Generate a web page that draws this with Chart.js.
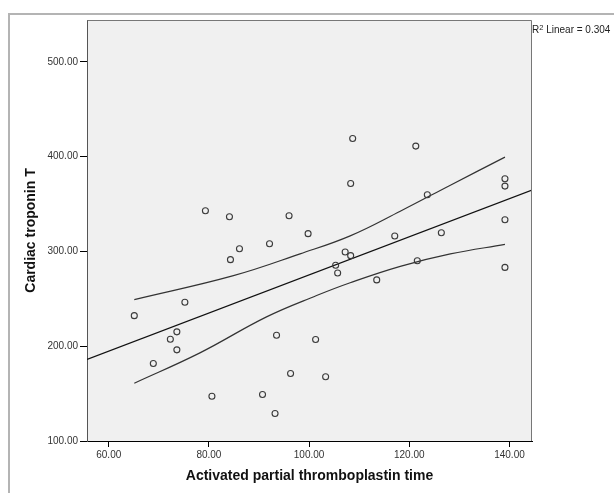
<!DOCTYPE html>
<html>
<head>
<meta charset="utf-8">
<title>APTT vs cardiac troponin T</title>
<script src="https://cdn.jsdelivr.net/npm/chart.js@4.4.1/dist/chart.umd.min.js"></script>
<style>
    html, body { margin: 0; padding: 0; background: #fff; }
    canvas { display: block; }
</style>
</head>
<body>
<canvas id="scatter-chart" width="614" height="493"></canvas>
<script>
const aptt = [65.1, 68.9, 72.3, 73.6, 73.6, 75.2, 79.3, 80.6, 84.1, 84.3, 86.1, 90.7,
    92.1, 93.2, 93.5, 96.0, 96.3, 99.8, 101.3, 103.3, 105.3, 105.7, 107.2, 108.3,
    108.3, 108.7, 113.5, 117.1, 121.3, 121.6, 123.6, 126.4, 139.1, 139.1, 139.1, 139.1];
const troponin = [232.3, 181.8, 207.4, 215.2, 196.2, 246.4, 343.0, 147.3, 336.7, 291.4, 302.9, 149.1,
    308.2, 129.1, 211.6, 337.7, 171.2, 318.8, 207.1, 167.8, 285.4, 277.3, 299.5, 295.6,
    371.8, 419.2, 270.0, 316.3, 411.2, 290.3, 359.9, 319.8, 376.7, 369.0, 333.5, 283.2];

// fit line and confidence band
const fitX = [55.66, 144.5];
const fitY = [186.0, 364.8];
const upperX = [65.1, 84.9, 98.2, 108.2, 118.2, 128.2, 139.1];
const upperY = [249.2, 274.5, 297.5, 316.5, 342.5, 370.0, 399.6];
const lowerX = [65.1, 78.2, 91.5, 101.5, 108.2, 118.2, 128.2, 139.1];
const lowerY = [161.0, 193.0, 231.0, 253.5, 267.0, 284.3, 297.4, 307.5];

const xTicks = [60, 80, 100, 120, 140];
const yTicks = [100, 200, 300, 400, 500];
const rSquared = "0.304";

function toPoints(xs, ys) {
    return xs.map((x, i) => ({ x: x, y: ys[i] }));
}

Chart.defaults.font.family = '"Liberation Sans", Arial, sans-serif';

const frame = {
    id: 'frame',
    beforeDraw(chart) {
        const ctx = chart.ctx;
        const a = chart.chartArea;
        ctx.save();
        // outer panel border
        ctx.strokeStyle = '#b4b4b4';
        ctx.lineWidth = 2;
        ctx.beginPath();
        ctx.moveTo(9, chart.height);
        ctx.lineTo(9, 14);
        ctx.lineTo(chart.width, 14);
        ctx.stroke();
        // plot background
        ctx.fillStyle = '#f0f0f0';
        ctx.fillRect(a.left, a.top, a.right - a.left, a.bottom - a.top);
        ctx.restore();
    },
    afterDraw(chart) {
        const ctx = chart.ctx;
        const a = chart.chartArea;
        ctx.save();
        ctx.strokeStyle = '#777';
        ctx.lineWidth = 1;
        ctx.beginPath();
        ctx.moveTo(Math.round(a.left) + 0.5, Math.round(a.top) + 0.5);
        ctx.lineTo(Math.round(a.right) - 0.5, Math.round(a.top) + 0.5);
        ctx.lineTo(Math.round(a.right) - 0.5, Math.round(a.bottom));
        ctx.stroke();

        // R² label
        let x = Math.round(a.right);
        ctx.fillStyle = '#222';
        ctx.textBaseline = 'alphabetic';
        ctx.font = '10px "Liberation Sans", Arial, sans-serif';
        ctx.fillText('R', x, 33);
        x += ctx.measureText('R').width;
        ctx.font = '7.5px "Liberation Sans", Arial, sans-serif';
        ctx.fillText('2', x, 29.5);
        x += ctx.measureText('2').width;
        ctx.font = '10px "Liberation Sans", Arial, sans-serif';
        ctx.fillText(' Linear = ' + rSquared, x, 33);
        ctx.restore();
    }
};

const ctx = document.getElementById('scatter-chart');
new Chart(ctx, {
    type: 'scatter',
    data: {
        datasets: [
            {
                label: 'Observed',
                data: toPoints(aptt, troponin),
                pointRadius: 3,
                pointBorderWidth: 1.1,
                pointBorderColor: '#3a3a3a',
                pointBackgroundColor: 'rgba(0,0,0,0)',
                order: 0
            },
            {
                label: 'Linear fit',
                data: toPoints(fitX, fitY),
                showLine: true,
                borderColor: '#111',
                borderWidth: 1.3,
                pointRadius: 0,
                order: 1
            },
            {
                label: 'Upper 95% CI',
                data: toPoints(upperX, upperY),
                showLine: true,
                borderColor: '#333',
                borderWidth: 1.2,
                pointRadius: 0,
                tension: 0.4,
                order: 2
            },
            {
                label: 'Lower 95% CI',
                data: toPoints(lowerX, lowerY),
                showLine: true,
                borderColor: '#333',
                borderWidth: 1.2,
                pointRadius: 0,
                tension: 0.4,
                order: 3
            }
        ]
    },
    options: {
        responsive: false,
        animation: false,
        events: [],
        layout: { padding: { left: 0, top: 20, right: 82, bottom: 0 } },
        plugins: {
            legend: { display: false },
            tooltip: { enabled: false }
        },
        scales: {
            x: {
                type: 'linear',
                min: 55.66,
                max: 144.5,
                afterBuildTicks: (scale) => { scale.ticks = xTicks.map(v => ({ value: v })); },
                afterFit: (scale) => { scale.height = 52; },
                grid: { drawOnChartArea: false, tickLength: 6, tickColor: '#000' },
                border: { color: '#000', width: 1 },
                ticks: {
                    autoSkip: false,
                    maxRotation: 0,
                    padding: 2,
                    color: '#333',
                    font: { size: 10 },
                    callback: (v) => Number(v).toFixed(2)
                },
                title: {
                    display: true,
                    text: 'Activated partial thromboplastin time',
                    color: '#111',
                    font: { size: 14, weight: 'bold' },
                    padding: { top: 4, bottom: 8 }
                }
            },
            y: {
                type: 'linear',
                min: 100,
                max: 544.3,
                afterBuildTicks: (scale) => { scale.ticks = yTicks.map(v => ({ value: v })); },
                afterFit: (scale) => { scale.width = 87; },
                grid: { drawOnChartArea: false, tickLength: 7, tickColor: '#000' },
                border: { color: '#555', width: 1 },
                ticks: {
                    autoSkip: false,
                    padding: 2,
                    color: '#333',
                    font: { size: 10 },
                    callback: (v) => Number(v).toFixed(2)
                },
                title: {
                    display: true,
                    text: 'Cardiac troponin T',
                    color: '#111',
                    font: { size: 14, weight: 'bold' },
                    padding: { top: 23, bottom: 4 }
                }
            }
        }
    },
    plugins: [frame]
});
</script>
</body>
</html>
